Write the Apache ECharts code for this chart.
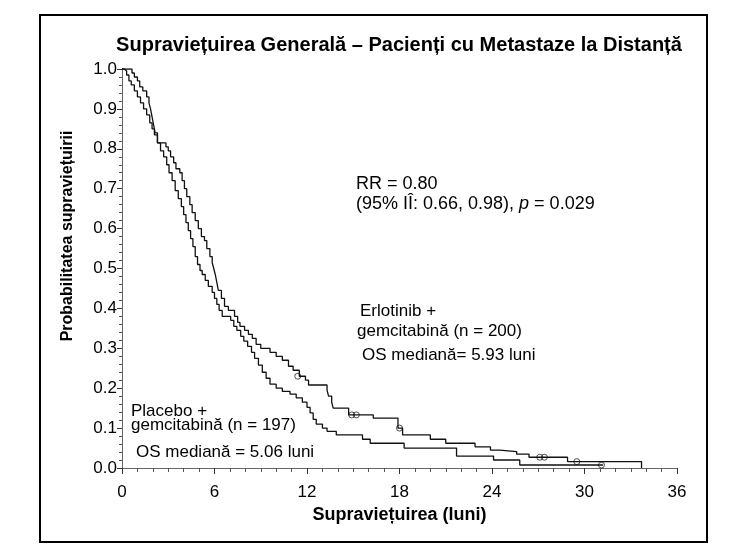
<!DOCTYPE html>
<html>
<head>
<meta charset="utf-8">
<script src="https://cdn.jsdelivr.net/npm/echarts@6/dist/echarts.min.js"></script>
<style>
html,body{margin:0;padding:0;background:#fff;}
#chart{width:745px;height:558px;}
</style>
</head>
<body>
<div id="chart"></div>
<script>
// ---- data ----
const titleText = 'Supraviețuirea Generală – Pacienți cu Metastaze la Distanță';
const xAxisName = 'Supraviețuirea (luni)';
const yAxisName = 'Probabilitatea supraviețuirii';
const xTicks = [0, 6, 12, 18, 24, 30, 36];
const yTicks = [0.0, 0.1, 0.2, 0.3, 0.4, 0.5, 0.6, 0.7, 0.8, 0.9, 1.0];

// Erlotinib + gemcitabina (step points: time in months, survival after step)
const erlotTime = [0, 0.65, 0.8, 1.0, 1.15, 1.35, 1.6, 1.75, 1.85, 1.95, 2.05, 2.15, 2.3, 2.85, 3.0, 3.15, 3.35, 3.5, 3.75, 3.9, 4.05, 4.2, 4.4, 4.55, 4.75, 4.95, 5.15, 5.35, 5.5, 5.7, 5.85, 5.95, 6.05, 6.15, 6.25, 6.45, 6.65, 6.9, 7.3, 7.5, 7.65, 7.95, 8.2, 8.45, 8.7, 9.0, 9.6, 10.0, 10.4, 10.8, 11.1, 11.5, 11.9, 12.1, 13.3, 13.4, 13.6, 13.7, 14.7, 16.3, 17.9, 18.2, 20.0, 21.0, 22.9, 23.9, 24.5, 25.6, 26.4, 28.9, 33.7];
const erlotSurv = [1.0, 0.99, 0.98, 0.97, 0.955, 0.945, 0.93, 0.915, 0.9, 0.88, 0.86, 0.84, 0.815, 0.805, 0.795, 0.78, 0.765, 0.75, 0.74, 0.72, 0.7, 0.68, 0.66, 0.64, 0.62, 0.6, 0.58, 0.57, 0.55, 0.53, 0.515, 0.5, 0.485, 0.465, 0.445, 0.425, 0.405, 0.395, 0.38, 0.365, 0.355, 0.345, 0.335, 0.325, 0.31, 0.3, 0.29, 0.28, 0.27, 0.255, 0.245, 0.23, 0.22, 0.208, 0.195, 0.18, 0.165, 0.15, 0.133, 0.125, 0.1, 0.083, 0.072, 0.062, 0.053, 0.045, 0.041, 0.035, 0.027, 0.016, 0.0];
const erlotCensTime = [11.4, 14.9, 15.2, 18.0, 27.1, 27.4, 29.5];
const erlotCensSurv = [0.23, 0.133, 0.133, 0.1, 0.027, 0.027, 0.016];

// Placebo + gemcitabina
const placTime = [0, 0.15, 0.3, 0.45, 0.6, 0.8, 1.0, 1.2, 1.4, 1.6, 1.8, 1.95, 2.1, 2.3, 2.5, 2.7, 2.9, 3.05, 3.25, 3.45, 3.65, 3.85, 4.0, 4.15, 4.3, 4.45, 4.6, 4.75, 4.9, 5.06, 5.2, 5.4, 5.6, 5.85, 6.0, 6.15, 6.3, 6.5, 7.05, 7.25, 7.45, 7.7, 7.9, 8.15, 8.4, 8.6, 8.85, 9.1, 9.35, 9.6, 10.0, 10.4, 10.9, 11.3, 11.7, 12.0, 12.2, 12.4, 12.6, 13.0, 13.3, 13.9, 15.6, 16.1, 18.3, 21.7, 24.1, 25.8, 31.2];
const placSurv = [1.0, 0.995, 0.985, 0.97, 0.96, 0.945, 0.93, 0.915, 0.9, 0.885, 0.865, 0.85, 0.835, 0.815, 0.795, 0.78, 0.76, 0.74, 0.72, 0.695, 0.675, 0.655, 0.635, 0.615, 0.595, 0.575, 0.555, 0.53, 0.51, 0.495, 0.485, 0.47, 0.455, 0.44, 0.425, 0.41, 0.395, 0.38, 0.37, 0.355, 0.345, 0.33, 0.318, 0.305, 0.29, 0.275, 0.258, 0.24, 0.225, 0.21, 0.2, 0.192, 0.185, 0.176, 0.165, 0.152, 0.138, 0.122, 0.11, 0.1, 0.092, 0.083, 0.072, 0.062, 0.05, 0.03, 0.02, 0.0075, 0.0075];
const placCensTime = [31.1];
const placCensSurv = [0.0075];

const pair = (a, b) => a.map((v, i) => [v, b[i]]);
const FONT = '"Liberation Sans", Arial, sans-serif';

const chart = echarts.init(document.getElementById('chart'), null, {renderer: 'canvas'});
chart.setOption({
  backgroundColor: '#fff',
  animation: false,
  title: {
    text: titleText,
    left: 394, top: 30, textAlign: 'center',
    textStyle: {fontFamily: FONT, fontSize: 20, fontWeight: 'bold', color: '#000'}
  },
  grid: {left: 122, right: 68, top: 69, bottom: 90, containLabel: false},
  xAxis: {
    type: 'value', min: 0, max: 36, interval: 6,
    name: xAxisName, nameLocation: 'middle', nameGap: 36,
    nameTextStyle: {fontFamily: FONT, fontSize: 18, fontWeight: 'bold', color: '#000'},
    axisLine: {show: true, onZero: false, lineStyle: {color: '#666', width: 1}},
    axisTick: {show: true, inside: false, length: 6, lineStyle: {color: '#333'}},
    minorTick: {show: true, splitNumber: 6, length: 4, lineStyle: {color: '#555'}},
    axisLabel: {fontFamily: FONT, fontSize: 17, color: '#000', margin: 16},
    splitLine: {show: false}
  },
  yAxis: {
    type: 'value', min: 0, max: 1, interval: 0.1,
    axisLine: {show: true, onZero: false, lineStyle: {color: '#666', width: 1}},
    axisTick: {show: true, inside: false, length: 5, lineStyle: {color: '#333'}},
    minorTick: {show: true, splitNumber: 5, length: 3, lineStyle: {color: '#555'}},
    axisLabel: {fontFamily: FONT, fontSize: 17, color: '#000', margin: 5,
      formatter: v => v.toFixed(1)},
    splitLine: {show: false}
  },
  graphic: [
    {type: 'rect', shape: {x: 40, y: 15, width: 667, height: 527},
     style: {fill: 'none', stroke: '#000', lineWidth: 2}, silent: true},
    {type: 'text', x: 68, y: 236, rotation: Math.PI / 2,
     style: {text: yAxisName, fontFamily: FONT, fontSize: 16, fontWeight: 'bold', fill: '#000',
       textAlign: 'center', textVerticalAlign: 'middle'}},
    {type: 'text', x: 356, y: 184,
     style: {text: 'RR = 0.80', fontFamily: FONT, fontSize: 18, fill: '#000', textVerticalAlign: 'middle'}},
    {type: 'text', x: 356, y: 204,
     style: {text: '(95% IÎ: 0.66, 0.98), {i|p} = 0.029', fontFamily: FONT, fontSize: 18, fill: '#000', textVerticalAlign: 'middle',
       rich: {i: {fontFamily: FONT, fontSize: 18, fontStyle: 'italic', fill: '#000'}}}},
    {type: 'text', x: 360, y: 311,
     style: {text: 'Erlotinib +', fontFamily: FONT, fontSize: 17, fill: '#000', textVerticalAlign: 'middle'}},
    {type: 'text', x: 357, y: 331,
     style: {text: 'gemcitabină (n = 200)', fontFamily: FONT, fontSize: 17, fill: '#000', textVerticalAlign: 'middle'}},
    {type: 'text', x: 362, y: 355,
     style: {text: 'OS mediană= 5.93 luni', fontFamily: FONT, fontSize: 17, fill: '#000', textVerticalAlign: 'middle'}},
    {type: 'text', x: 131, y: 411,
     style: {text: 'Placebo +', fontFamily: FONT, fontSize: 17, fill: '#000', textVerticalAlign: 'middle'}},
    {type: 'text', x: 131, y: 425,
     style: {text: 'gemcitabină (n = 197)', fontFamily: FONT, fontSize: 17, fill: '#000', textVerticalAlign: 'middle'}},
    {type: 'text', x: 136, y: 452,
     style: {text: 'OS mediană = 5.06 luni', fontFamily: FONT, fontSize: 17, fill: '#000', textVerticalAlign: 'middle'}}
  ],
  series: [
    {name: 'Erlotinib + gemcitabină', type: 'line', step: 'end', data: pair(erlotTime, erlotSurv),
     showSymbol: false, lineStyle: {color: '#111', width: 1.3}},
    {name: 'Placebo + gemcitabină', type: 'line', step: 'end', data: pair(placTime, placSurv),
     showSymbol: false, lineStyle: {color: '#111', width: 1.3}},
    {type: 'scatter', data: pair(erlotCensTime, erlotCensSurv), symbol: 'circle', symbolSize: 6,
     itemStyle: {color: 'rgba(255,255,255,0)', borderColor: '#222', borderWidth: 1}},
    {type: 'scatter', data: pair(placCensTime, placCensSurv), symbol: 'circle', symbolSize: 6,
     itemStyle: {color: 'rgba(255,255,255,0)', borderColor: '#222', borderWidth: 1}}
  ]
});
</script>
</body>
</html>
